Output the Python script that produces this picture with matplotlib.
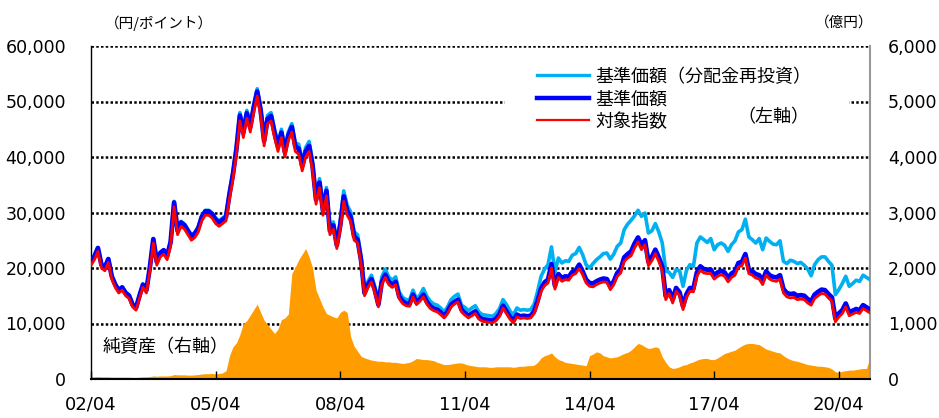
import matplotlib
matplotlib.use("Agg")
import matplotlib.pyplot as plt
import numpy as np
from matplotlib.patches import Rectangle
from matplotlib.lines import Line2D
from matplotlib.ticker import FuncFormatter

plt.rcParams["font.family"] = ["DejaVu Sans", "Noto Sans CJK JP"]
JP = ["Noto Sans CJK JP", "DejaVu Sans"]

# monthly values, 2002/04 .. 2021/01
index_vals = [
    20500, 21500, 23000, 20000, 19500, 21000, 18000, 16500, 15500, 16000, 15000, 14500,
    13000, 12400, 14500, 16500, 15500, 19500, 24500, 20500, 22000, 22500, 21500, 24000,
    31000, 26000, 27500, 27000, 26000, 25000, 25500, 26500, 28500, 29500, 29500, 29000,
    28000, 27500, 28000, 28500, 32500, 36000, 40500, 46500, 43500, 47000, 44500, 48000,
    51000, 47500, 42000, 46000, 46500, 43500, 41000, 43500, 40000, 43000, 44500, 41000,
    40500, 37500, 40000, 41000, 37500, 31500, 34500, 29500, 33000, 26000, 27000, 23500,
    27000, 32000, 29500, 28400, 25000, 24500, 20800, 15000, 16500, 17500, 15500, 13000,
    17000, 18300, 17000, 16500, 17000, 14500, 13600, 13200, 13100, 14800, 13400, 14000,
    14800, 13500, 12700, 12300, 12100, 11600, 11000, 11800, 13000, 13500, 13900, 12100,
    11500, 11000, 11400, 11800, 10800, 10400, 10300, 10200, 10100, 10500, 11300, 12800,
    11800, 10800, 10100, 11200, 10900, 11000, 10900, 11000, 11800, 13600, 15800, 16800,
    17300, 20000, 16200, 18300, 17600, 17900, 17800, 18700, 19000, 19900, 18800, 17300,
    16700, 16600, 17000, 17300, 17500, 17400, 16100, 17000, 18500, 19100, 21200, 21800,
    22200, 23600, 24700, 23300, 24200, 20400, 21300, 22600, 21200, 19500, 14300, 15400,
    13700, 15800, 15000, 12500, 14700, 15800, 15700, 18500, 19600, 19100, 19000, 19000,
    18000, 18500, 18800, 18500, 17500, 18300, 18700, 20200, 20400, 21800, 19000, 18700,
    18200, 18000, 17000, 18700, 18000, 17700, 17600, 18000, 15500, 14800, 14600, 14700,
    14300, 14400, 14300, 13700, 13300, 14500, 15000, 15400, 15300, 14600, 14000, 10300,
    11200, 11800, 13000, 11400, 11700, 12000, 11800, 12700, 12300, 11900,
]

nav_vals = [
    21000, 22100, 23600, 20600, 20100, 21600, 18500, 17000, 16000, 16500, 15500, 15000,
    13400, 12800, 15000, 17000, 16000, 20100, 25200, 21100, 22700, 23200, 22200, 24700,
    31800, 26700, 28200, 27700, 26700, 25700, 26200, 27200, 29200, 30200, 30200, 29700,
    28700, 28200, 28700, 29200, 33300, 36900, 41400, 47500, 44400, 47900, 45400, 48900,
    51800, 48400, 42900, 46900, 47400, 44400, 41900, 44400, 40900, 43900, 45400, 41900,
    41500, 38400, 41000, 42000, 38400, 32300, 35400, 30300, 33900, 26700, 27700, 24100,
    27700, 32900, 30300, 29200, 25700, 25100, 21400, 15500, 17000, 18000, 16000, 13400,
    17500, 18800, 17500, 17000, 17500, 14900, 14000, 13600, 13500, 15200, 13800, 14400,
    15200, 13900, 13100, 12700, 12500, 12000, 11300, 12200, 13400, 13900, 14300, 12500,
    11900, 11400, 11800, 12200, 11200, 10800, 10700, 10600, 10500, 10900, 11700, 13200,
    12200, 11200, 10500, 11600, 11300, 11400, 11300, 11400, 12200, 14100, 16300, 17400,
    17900, 20700, 16800, 18900, 18200, 18500, 18400, 19300, 19600, 20600, 19400, 17900,
    17300, 17200, 17600, 17900, 18100, 18000, 16700, 17600, 19100, 19800, 21900, 22500,
    23000, 24400, 25500, 24100, 25000, 21100, 22000, 23300, 21900, 20200, 14900, 16000,
    14300, 16400, 15600, 13100, 15300, 16400, 16300, 19200, 20300, 19800, 19700, 19700,
    18700, 19200, 19500, 19200, 18200, 19000, 19400, 20900, 21100, 22500, 19700, 19400,
    18900, 18700, 17700, 19400, 18700, 18400, 18300, 18700, 16200, 15500, 15300, 15400,
    15000, 15100, 15000, 14400, 14000, 15200, 15700, 16100, 16000, 15300, 14700, 10900,
    11800, 12400, 13600, 12000, 12300, 12600, 12400, 13300, 12900, 12500,
]

nav_reinv_vals = [
    21100, 22200, 23700, 20700, 20200, 21700, 18600, 17100, 16100, 16600, 15600, 15100,
    13500, 12900, 15100, 17100, 16100, 20200, 25300, 21200, 22800, 23300, 22300, 24800,
    32000, 26900, 28400, 27900, 26900, 25900, 26400, 27400, 29400, 30400, 30400, 29900,
    29000, 28500, 29000, 29500, 33700, 37300, 41800, 48000, 44900, 48400, 45900, 49400,
    52300, 48900, 43400, 47500, 48000, 45000, 42500, 45000, 41500, 44500, 46000, 42500,
    42300, 39100, 41700, 42800, 39100, 32900, 36100, 30800, 34500, 27200, 28300, 24600,
    28600, 33900, 31300, 30100, 26500, 26000, 22100, 16000, 17600, 18700, 16600, 13900,
    18400, 19800, 18400, 17800, 18400, 15700, 14700, 14300, 14200, 16000, 14500, 15100,
    16300, 14900, 14000, 13500, 13300, 12800, 12100, 13000, 14300, 14900, 15300, 13300,
    12900, 12300, 12800, 13200, 12100, 11600, 11500, 11400, 11300, 11800, 12700, 14300,
    13400, 12300, 11500, 12800, 12400, 12500, 12400, 12500, 13500, 15800, 18500, 19800,
    20600, 23800, 19300, 21800, 20900, 21300, 21200, 22300, 22600, 23700, 22400, 20600,
    20000, 20800, 21500, 22000, 22600, 22700, 21600, 22500, 23900, 24500, 26900, 27900,
    28600, 29400, 30400, 29300, 29900, 26300, 26700, 28000, 26500, 24500, 19500, 19200,
    18300, 19700, 19500, 16700, 19600, 20600, 20300, 24500, 25600, 25100, 24600, 25300,
    23300, 24200, 24500, 24100, 23000, 24200, 24900, 26500, 26900, 28800, 25600, 25100,
    24500, 25300, 23300, 25400, 24800, 24300, 24200, 24900, 21200, 20800, 21400, 21200,
    20800, 21000, 20500, 19800, 18600, 20600, 21500, 22000, 22000, 21200, 20500, 15200,
    16100, 17200, 18500, 16700, 17200, 17800, 17600, 18700, 18300, 17900,
]

# net assets (100 million yen)
assets_vals = [
    40, 40, 45, 40, 40, 40, 35, 35, 35, 35, 35, 35,
    30, 30, 35, 40, 40, 45, 55, 50, 55, 55, 55, 60,
    80, 75, 75, 75, 70, 70, 75, 80, 90, 95, 95, 100,
    90, 100, 110, 150, 420, 580, 650, 800, 1000, 1050, 1150, 1250,
    1350, 1200, 1060, 980, 900, 820, 900, 1070, 1100, 1170, 1900, 2020,
    2150, 2250, 2350, 2200, 2000, 1600, 1450, 1300, 1180, 1150, 1120, 1100,
    1200, 1240, 1200, 760, 590, 500, 410, 380, 360, 340, 330, 320,
    320, 310, 310, 300, 300, 290, 280, 290, 300, 330, 370, 360,
    350, 350, 340, 330, 300, 280, 260, 260, 270, 280, 290, 290,
    270, 250, 240, 230, 220, 220, 220, 210, 210, 220, 220, 220,
    220, 220, 210, 220, 230, 230, 240, 240, 250, 300, 380, 420,
    440, 470, 400, 350, 330, 300, 290, 280, 270, 260, 250, 240,
    420, 450, 490, 470, 420, 400, 380, 390, 400, 430, 460, 480,
    520, 580, 640, 620, 580, 550, 560, 580, 560, 400, 300, 220,
    190, 200, 220, 250, 260, 290, 310, 340, 360, 370, 370, 350,
    350, 380, 420, 460, 480, 500, 520, 560, 600, 630, 640, 640,
    630, 620, 580, 540, 520, 500, 480, 470, 420, 380, 350, 330,
    320, 300, 280, 260, 250, 240, 230, 230, 220, 210, 180, 130,
    120, 140, 150, 160, 160, 170, 180, 190, 190, 400,
]

tick_labels = ["02/04", "05/04", "08/04", "11/04", "14/04", "17/04", "20/04"]
tick_months = [0, 36, 72, 108, 144, 180, 216]

x = np.arange(len(index_vals))

fig = plt.figure(figsize=(9.39, 4.18), dpi=100)
ax = fig.add_axes([91 / 939, 1 - 379 / 418, 779 / 939, 333 / 418])
ax2 = ax.twinx()
ax.set_zorder(2)
ax2.set_zorder(1)
ax.patch.set_visible(False)

# right axis: net assets area + grid
ax2.set_ylim(0, 6000)
ax2.set_yticks(np.arange(0, 6001, 1000))
ax2.yaxis.grid(True, color="black", linestyle=(0, (1, 0.9)), linewidth=1.8, zorder=0)
ax2.set_axisbelow(True)
ax2.fill_between(x, 0, assets_vals, color="#FF9C00", linewidth=0, zorder=2)

# left axis: price lines
ax.plot(x, nav_reinv_vals, color="#00B0F0", linewidth=2.6, zorder=3)
ax.plot(x, nav_vals, color="#0000FF", linewidth=3.4, zorder=4)
ax.plot(x, index_vals, color="#FF0000", linewidth=2.0, zorder=5)

ax.set_xlim(0, len(index_vals) - 1)
ax.set_ylim(0, 60000)
ax.set_yticks(np.arange(0, 60001, 10000))
ax.set_xticks(tick_months)
ax.set_xticklabels(tick_labels)

fmt = FuncFormatter(lambda v, p: f"{int(v):,}")
ax.yaxis.set_major_formatter(fmt)
ax2.yaxis.set_major_formatter(fmt)

ax.tick_params(axis="y", length=0, labelsize=12.5, pad=18)
ax2.tick_params(axis="y", length=0, labelsize=12.5, pad=13)
ax.tick_params(axis="x", direction="in", length=6, width=1, labelsize=13, pad=12)
ax2.tick_params(axis="x", length=0)

for a in (ax, ax2):
    a.spines["top"].set_visible(False)
ax.spines["right"].set_visible(False)
ax2.spines["left"].set_visible(False)
ax2.spines["bottom"].set_visible(False)
ax2.spines["right"].set_color("#999999")
ax2.spines["right"].set_linewidth(1.5)
ax.spines["left"].set_linewidth(1.0)
ax.spines["bottom"].set_linewidth(1.5)

# legend area
ax.add_patch(Rectangle((0.5315, 0.754), 0.4415, 0.198, transform=ax.transAxes,
                       facecolor="white", edgecolor="none", zorder=1))
handles = [
    Line2D([], [], color="#00B0F0", linewidth=2.4),
    Line2D([], [], color="#0000FF", linewidth=3.2),
    Line2D([], [], color="#FF0000", linewidth=1.6),
]
labels = ["基準価額（分配金再投資）", "基準価額", "対象指数"]
leg = ax.legend(handles, labels, loc="upper left", bbox_to_anchor=(0.5725, 0.935),
                frameon=False, handlelength=2.9, handletextpad=0.35,
                labelspacing=0.25, borderpad=0, borderaxespad=0,
                prop={"family": JP, "size": 13})
ax.text(0.83, 0.787, "（左軸）", transform=ax.transAxes, ha="left", va="center",
        fontsize=13, family=JP)

ax.text(0.015, 0.095, "純資産（右軸）", transform=ax.transAxes, ha="left", va="center",
        fontsize=13, family=JP)
fig.text(105 / 939, 1 - 23 / 418, "（円/ポイント）", ha="left", va="center",
         fontsize=10.5, family=JP)
fig.text(873 / 939, 1 - 23 / 418, "（億円）", ha="right", va="center",
         fontsize=10.5, family=JP)

fig.savefig("out.png", dpi=100)
